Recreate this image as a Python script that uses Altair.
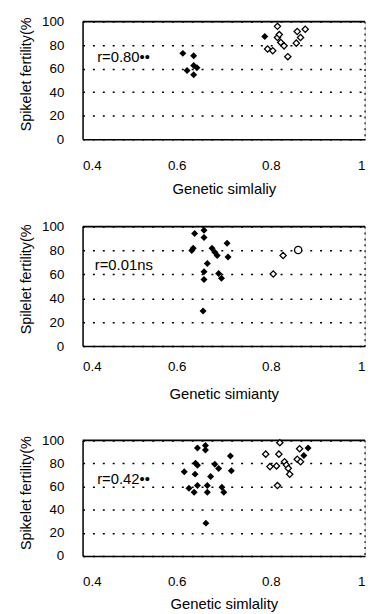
import altair as alt
import pandas as pd

FONT = "Liberation Sans"

# ---------- Panel 1 ----------
p1_fill_x = [0.613, 0.636, 0.622, 0.636, 0.636, 0.643, 0.787]
p1_fill_y = [73.0, 71.0, 58.4, 62.6, 54.8, 60.7, 87.4]
p1_open_x = [0.814, 0.814, 0.793, 0.804, 0.821, 0.828, 0.836, 0.856, 0.873, 0.863, 0.854, 0.818]
p1_open_y = [96.0, 86.5, 76.7, 75.2, 82.3, 79.4, 70.2, 91.6, 93.5, 86.5, 81.7, 89.0]
p1_circ_x = []
p1_circ_y = []

# ---------- Panel 2 ----------
p2_fill_x = [0.638, 0.658, 0.658, 0.707, 0.635, 0.632, 0.675, 0.681, 0.686, 0.709,
             0.665, 0.658, 0.658, 0.689, 0.695, 0.656]
p2_fill_y = [94.2, 96.9, 90.9, 86.0, 81.9, 79.9, 81.9, 78.6, 75.8, 74.6,
             69.0, 62.2, 55.8, 60.8, 56.7, 29.3]
p2_open_x = [0.826, 0.805]
p2_open_y = [75.8, 60.3]
p2_circ_x = [0.858]
p2_circ_y = [80.4]

# ---------- Panel 3 ----------
p3_fill_x = [0.644, 0.661, 0.661, 0.714, 0.640, 0.644, 0.616, 0.639, 0.681, 0.689,
             0.716, 0.672, 0.626, 0.637, 0.644, 0.665, 0.665, 0.696, 0.700, 0.662,
             0.879, 0.870]
p3_fill_y = [93.5, 95.5, 91.6, 86.5, 80.2, 78.5, 72.9, 70.8, 79.3, 75.6,
             73.7, 68.8, 58.6, 55.2, 60.9, 60.9, 55.2, 59.5, 55.2, 28.4,
             93.5, 86.9]
p3_open_x = [0.819, 0.789, 0.817, 0.798, 0.812, 0.829, 0.833, 0.837, 0.840, 0.861,
             0.856, 0.863, 0.814]
p3_open_y = [98.0, 88.1, 88.1, 77.3, 77.9, 81.5, 78.7, 75.8, 70.7, 92.8,
             83.7, 81.5, 60.9]
p3_circ_x = []
p3_circ_y = []

x_ticks = [0.4, 0.6, 0.8, 1.0]
y_ticks = [0, 20, 40, 60, 80, 100]

labels = ["r=0.80\u2022\u2022", "r=0.01ns", "r=0.42\u2022\u2022"]
label_x = [0.431, 0.426, 0.431]
label_y = [70.0, 67.6, 66.5]
x_titles = ["Genetic simlaliy", "Genetic simianty", "Genetic simlality"]
y_titles = ["Spikelet fertility(%", "Spilelet fertility(%", "Spikelet fertility(%"]

W = 286
heights = [119, 121, 117]
x_label_pad = [20, 13.5, 19]
x_title_pad = [10, 14.5, 8.5]


def panel(fx, fy, ox, oy, cx, cy, lab, lx, ly, xt, yt, h, lp, tp):
    xs = alt.Scale(domain=[0.4, 1.0], nice=False, zero=False)
    ys = alt.Scale(domain=[0, 100], nice=False)
    xax = alt.Axis(values=x_ticks, title=xt, grid=False, ticks=False,
                   labelExpr="datum.value == 1 ? '1' : format(datum.value, '.1f')",
                   labelPadding=lp, titlePadding=tp, domainColor="black",
                   domainWidth=1.5, labelFontSize=13.5, titleFontSize=15,
                   titleFontWeight="normal", labelColor="black", titleColor="black",
                   labelFont=FONT, titleFont=FONT)
    yax = alt.Axis(values=y_ticks, title=yt, grid=True, ticks=False,
                   gridColor="black", gridDash=[2, 8], gridWidth=1.5,
                   labelPadding=19, titlePadding=8, domainColor="black",
                   domainWidth=1.5, labelFontSize=13.5, titleFontSize=14.5,
                   titleY=53,
                   titleFontWeight="normal", labelColor="black", titleColor="black",
                   labelFont=FONT, titleFont=FONT)

    fdf = pd.DataFrame({"x": fx, "y": fy})
    odf = pd.DataFrame({"x": ox, "y": oy})
    cdf = pd.DataFrame({"x": cx, "y": cy})
    tdf = pd.DataFrame({"x": [lx], "y": [ly], "t": [lab]})
    bdf = pd.DataFrame({"x": [1.0], "y": [100]})

    base_enc = dict(x=alt.X("x:Q", scale=xs, axis=xax), y=alt.Y("y:Q", scale=ys, axis=yax))

    top = alt.Chart(bdf).mark_rule(color="black", strokeWidth=1.8).encode(
        y=alt.Y("y:Q", scale=ys, axis=yax))
    right = alt.Chart(bdf).mark_rule(color="black", strokeWidth=1.2, strokeDash=[2, 4]).encode(
        x=alt.X("x:Q", scale=xs, axis=xax))
    filled = alt.Chart(fdf).mark_point(shape="diamond", filled=True, color="black",
                                       size=50, opacity=1).encode(**base_enc)
    opened = alt.Chart(odf).mark_point(shape="diamond", filled=True, fill="white",
                                       stroke="black", strokeWidth=1.3, size=40,
                                       opacity=1).encode(**base_enc)
    layers = [top, right, filled, opened]
    if len(cx):
        circ = alt.Chart(cdf).mark_point(shape="circle", filled=True, fill="white",
                                         stroke="black", strokeWidth=1.3, size=55,
                                         opacity=1).encode(**base_enc)
        layers.append(circ)
    txt = alt.Chart(tdf).mark_text(align="left", baseline="middle", fontSize=15,
                                   font=FONT, color="black").encode(
        x=alt.X("x:Q", scale=xs, axis=xax), y=alt.Y("y:Q", scale=ys, axis=yax), text="t:N")
    layers.append(txt)
    return alt.layer(*layers).properties(width=W, height=h)


c1 = panel(p1_fill_x, p1_fill_y, p1_open_x, p1_open_y, p1_circ_x, p1_circ_y,
           labels[0], label_x[0], label_y[0], x_titles[0], y_titles[0],
           heights[0], x_label_pad[0], x_title_pad[0])
c2 = panel(p2_fill_x, p2_fill_y, p2_open_x, p2_open_y, p2_circ_x, p2_circ_y,
           labels[1], label_x[1], label_y[1], x_titles[1], y_titles[1],
           heights[1], x_label_pad[1], x_title_pad[1])
c3 = panel(p3_fill_x, p3_fill_y, p3_open_x, p3_open_y, p3_circ_x, p3_circ_y,
           labels[2], label_x[2], label_y[2], x_titles[2], y_titles[2],
           heights[2], x_label_pad[2], x_title_pad[2]).properties(
    title=alt.TitleParams(" ", fontSize=1, offset=8))

chart = alt.vconcat(c1, c2, c3, spacing=21.5).properties(
    padding={"top": 2, "left": 9.5, "right": 0, "bottom": 0}
).configure_view(stroke=None).configure(background="white")

chart.save("out.html", embed_options={"renderer": "svg", "actions": False})
